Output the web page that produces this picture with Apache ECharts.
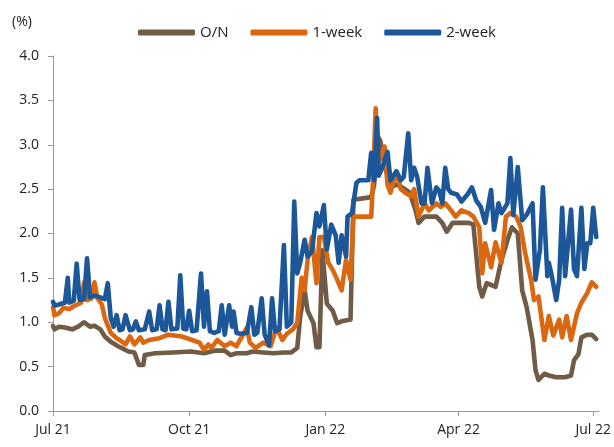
<!DOCTYPE html>
<html>
<head>
<meta charset="utf-8">
<script src="https://cdn.jsdelivr.net/npm/echarts@6/dist/echarts.min.js"></script>
<style>
  html, body { margin: 0; padding: 0; background: #fff; }
  #chart { width: 614px; height: 447px; }
</style>
</head>
<body>
<div id="chart"></div>
<script>
// Overnight, 1-week and 2-week rates (%)
const onDates = [
  "2021-07-01", "2021-07-02", "2021-07-05", "2021-07-09", "2021-07-14", "2021-07-18",
  "2021-07-22", "2021-07-26", "2021-07-29", "2021-08-02", "2021-08-05", "2021-08-09",
  "2021-08-14", "2021-08-21", "2021-08-25", "2021-08-28", "2021-08-31", "2021-09-01",
  "2021-09-08", "2021-09-20", "2021-10-02", "2021-10-11", "2021-10-18", "2021-10-25",
  "2021-10-29", "2021-11-02", "2021-11-09", "2021-11-13", "2021-11-20", "2021-11-27",
  "2021-12-04", "2021-12-09", "2021-12-13", "2021-12-15", "2021-12-18", "2021-12-20",
  "2021-12-24", "2021-12-26", "2021-12-28", "2021-12-30", "2022-01-02", "2022-01-06",
  "2022-01-09", "2022-01-12", "2022-01-18", "2022-01-20", "2022-02-01", "2022-02-03",
  "2022-02-05", "2022-02-07", "2022-02-11", "2022-02-14", "2022-02-18", "2022-02-22",
  "2022-02-27", "2022-03-03", "2022-03-05", "2022-03-09", "2022-03-12", "2022-03-17",
  "2022-03-21", "2022-03-24", "2022-03-28", "2022-04-01", "2022-04-08", "2022-04-11",
  "2022-04-15", "2022-04-17", "2022-04-20", "2022-04-26", "2022-04-30", "2022-05-04",
  "2022-05-07", "2022-05-11", "2022-05-14", "2022-05-17", "2022-05-21", "2022-05-23",
  "2022-05-25", "2022-05-29", "2022-06-01", "2022-06-06", "2022-06-12", "2022-06-16",
  "2022-06-18", "2022-06-21", "2022-06-23", "2022-06-27", "2022-06-30", "2022-07-03"
];
const onValues = [
  0.96, 0.92, 0.95, 0.94, 0.92, 0.95,
  1.00, 0.95, 0.96, 0.92, 0.84, 0.78,
  0.73, 0.67, 0.66, 0.52, 0.52, 0.63,
  0.65, 0.66, 0.67, 0.65, 0.68, 0.68,
  0.63, 0.65, 0.65, 0.67, 0.66, 0.65,
  0.66, 0.66, 0.71, 1.06, 1.36, 1.13,
  0.99, 0.72, 0.72, 1.81, 1.21, 1.13,
  0.99, 1.01, 1.03, 2.38, 2.41, 2.55,
  3.10, 3.05, 2.72, 2.52, 2.55, 2.52,
  2.46, 2.26, 2.12, 2.19, 2.19, 2.19,
  2.12, 2.02, 2.12, 2.12, 2.12, 2.10,
  1.40, 1.29, 1.44, 1.40, 1.70, 1.92,
  2.07, 2.00, 1.36, 1.17, 0.80, 0.46,
  0.35, 0.42, 0.40, 0.38, 0.38, 0.40,
  0.57, 0.64, 0.83, 0.86, 0.86, 0.81
];

const w1Dates = [
  "2021-07-01", "2021-07-02", "2021-07-05", "2021-07-08", "2021-07-12", "2021-07-15",
  "2021-07-20", "2021-07-22", "2021-07-24", "2021-07-27", "2021-07-29", "2021-07-31",
  "2021-08-03", "2021-08-05", "2021-08-09", "2021-08-13", "2021-08-15", "2021-08-19",
  "2021-08-22", "2021-08-25", "2021-08-29", "2021-08-31", "2021-09-04", "2021-09-11",
  "2021-09-17", "2021-09-26", "2021-10-03", "2021-10-08", "2021-10-11", "2021-10-14",
  "2021-10-16", "2021-10-20", "2021-10-25", "2021-10-29", "2021-11-02", "2021-11-09",
  "2021-11-11", "2021-11-15", "2021-11-20", "2021-11-25", "2021-11-29", "2021-12-03",
  "2021-12-06", "2021-12-10", "2021-12-13", "2021-12-16", "2021-12-18", "2021-12-20",
  "2021-12-23", "2021-12-26", "2021-12-28", "2021-12-31", "2022-01-03", "2022-01-06",
  "2022-01-09", "2022-01-12", "2022-01-15", "2022-01-18", "2022-01-20", "2022-02-01",
  "2022-02-02", "2022-02-04", "2022-02-06", "2022-02-10", "2022-02-12", "2022-02-14",
  "2022-02-18", "2022-02-21", "2022-02-24", "2022-02-28", "2022-03-02", "2022-03-05",
  "2022-03-09", "2022-03-12", "2022-03-17", "2022-03-20", "2022-03-23", "2022-03-27",
  "2022-03-30", "2022-04-03", "2022-04-08", "2022-04-11", "2022-04-15", "2022-04-17",
  "2022-04-19", "2022-04-23", "2022-04-26", "2022-04-30", "2022-05-03", "2022-05-06",
  "2022-05-10", "2022-05-13", "2022-05-16", "2022-05-20", "2022-05-22", "2022-05-25",
  "2022-05-29", "2022-06-01", "2022-06-04", "2022-06-08", "2022-06-10", "2022-06-13",
  "2022-06-16", "2022-06-20", "2022-06-23", "2022-06-27", "2022-06-30", "2022-07-03"
];
const w1Values = [
  1.17, 1.08, 1.10, 1.16, 1.15, 1.18,
  1.22, 1.45, 1.25, 1.27, 1.45, 1.27,
  1.20, 1.05, 0.88, 0.82, 0.80, 0.75,
  0.84, 0.75, 0.83, 0.77, 0.80, 0.82,
  0.86, 0.84, 0.80, 0.77, 0.69, 0.75,
  0.71, 0.80, 0.73, 0.77, 0.73, 0.94,
  0.77, 0.71, 0.77, 0.73, 0.94, 0.80,
  0.87, 0.92, 0.99, 1.50, 1.36, 1.70,
  1.96, 1.44, 1.96, 1.96, 1.67, 1.59,
  1.48, 1.36, 1.70, 1.48, 2.19, 2.19,
  2.52, 3.41, 2.80, 2.98, 2.55, 2.46,
  2.70, 2.50, 2.46, 2.42, 2.50, 2.19,
  2.34, 2.26, 2.34, 2.30, 2.34, 2.26,
  2.19, 2.26, 2.23, 2.19, 2.07, 1.55,
  1.89, 1.62, 1.90, 1.67, 2.19, 2.23,
  2.19, 2.07, 1.78, 1.48, 1.25, 1.29,
  0.80, 1.07, 0.85, 1.03, 0.83, 1.07,
  0.80, 1.10, 1.22, 1.33, 1.45, 1.40
];

const w2Dates = [
  "2021-07-01", "2021-07-02", "2021-07-05", "2021-07-09", "2021-07-11", "2021-07-12",
  "2021-07-15", "2021-07-17", "2021-07-19", "2021-07-22", "2021-07-24", "2021-07-26",
  "2021-07-29", "2021-08-02", "2021-08-05", "2021-08-07", "2021-08-09", "2021-08-11",
  "2021-08-13", "2021-08-15", "2021-08-17", "2021-08-19", "2021-08-22", "2021-08-24",
  "2021-08-26", "2021-08-28", "2021-09-01", "2021-09-04", "2021-09-06", "2021-09-09",
  "2021-09-11", "2021-09-13", "2021-09-15", "2021-09-17", "2021-09-19", "2021-09-23",
  "2021-09-25", "2021-09-27", "2021-09-29", "2021-10-01", "2021-10-03", "2021-10-06",
  "2021-10-09", "2021-10-11", "2021-10-13", "2021-10-15", "2021-10-18", "2021-10-21",
  "2021-10-23", "2021-10-25", "2021-10-28", "2021-10-30", "2021-10-31", "2021-11-02",
  "2021-11-05", "2021-11-09", "2021-11-12", "2021-11-14", "2021-11-16", "2021-11-19",
  "2021-11-21", "2021-11-24", "2021-11-26", "2021-11-28", "2021-12-01", "2021-12-04",
  "2021-12-06", "2021-12-09", "2021-12-11", "2021-12-13", "2021-12-15", "2021-12-18",
  "2021-12-20", "2021-12-23", "2021-12-26", "2021-12-28", "2021-12-31", "2022-01-02",
  "2022-01-05", "2022-01-08", "2022-01-10", "2022-01-12", "2022-01-15", "2022-01-16",
  "2022-01-19", "2022-01-22", "2022-01-24", "2022-01-30", "2022-02-01", "2022-02-03",
  "2022-02-05", "2022-02-06", "2022-02-08", "2022-02-12", "2022-02-14", "2022-02-18",
  "2022-02-21", "2022-02-23", "2022-02-26", "2022-02-28", "2022-03-02", "2022-03-04",
  "2022-03-07", "2022-03-09", "2022-03-11", "2022-03-14", "2022-03-17", "2022-03-19",
  "2022-03-21", "2022-03-23", "2022-03-25", "2022-03-27", "2022-03-31", "2022-04-03",
  "2022-04-07", "2022-04-10", "2022-04-13", "2022-04-16", "2022-04-19", "2022-04-23",
  "2022-04-25", "2022-04-28", "2022-04-30", "2022-05-04", "2022-05-06", "2022-05-08",
  "2022-05-11", "2022-05-14", "2022-05-17", "2022-05-21", "2022-05-23", "2022-05-26",
  "2022-05-28", "2022-05-31", "2022-06-01", "2022-06-03", "2022-06-06", "2022-06-08",
  "2022-06-10", "2022-06-12", "2022-06-16", "2022-06-18", "2022-06-20", "2022-06-23",
  "2022-06-25", "2022-06-27", "2022-06-29", "2022-07-01", "2022-07-03"
];
const w2Values = [
  1.23, 1.19, 1.20, 1.22, 1.50, 1.22,
  1.24, 1.66, 1.25, 1.26, 1.72, 1.28,
  1.30, 1.28, 1.26, 1.44, 1.05, 0.95,
  1.08, 0.91, 0.92, 1.08, 0.91, 0.92,
  1.01, 0.91, 0.92, 1.12, 0.91, 0.92,
  1.19, 0.92, 0.91, 1.23, 0.92, 0.93,
  1.53, 0.93, 0.92, 1.13, 0.90, 0.91,
  1.55, 0.95, 1.35, 0.90, 0.88, 0.90,
  1.19, 0.86, 1.19, 0.95, 1.12, 0.88,
  0.87, 0.88, 1.17, 0.86, 0.88, 1.27,
  0.86, 0.74, 1.27, 0.90, 0.92, 1.87,
  0.95, 1.00, 2.36, 1.55, 1.67, 1.93,
  1.74, 1.80, 2.23, 2.08, 2.32, 1.82,
  2.10, 1.98, 1.67, 1.98, 1.74, 2.19,
  2.23, 2.57, 2.60, 2.60, 2.91, 2.60,
  3.30, 2.65, 2.72, 2.92, 2.60, 2.70,
  2.60, 2.64, 3.13, 2.60, 2.74, 2.64,
  2.34, 2.34, 2.74, 2.34, 2.52, 2.48,
  2.34, 2.74, 2.50, 2.46, 2.44, 2.36,
  2.44, 2.52, 2.37, 2.30, 2.12, 2.49,
  2.04, 2.34, 2.23, 2.34, 2.85, 2.21,
  2.75, 2.15, 2.21, 2.34, 1.48, 1.82,
  2.52, 1.52, 1.67, 1.52, 1.25, 1.48,
  2.29, 1.52, 2.27, 1.60, 1.52, 2.29,
  1.60, 1.89, 1.89, 2.29, 1.96
];

const seriesNames = ["O/N", "1-week", "2-week"];
const seriesColors = ["#6f5b46", "#db6810", "#1b5799"];
const monthLabels = ["Jan", "Feb", "Mar", "Apr", "May", "Jun", "Jul", "Aug", "Sep", "Oct", "Nov", "Dec"];

const DAY = 24 * 3600 * 1000;

function zip(dates, values) {
  return dates.map((d, i) => [d, values[i]]);
}

function lineSeries(idx, data) {
  return {
    name: seriesNames[idx],
    type: "line",
    data: data,
    showSymbol: false,
    symbol: "none",
    color: seriesColors[idx],
    lineStyle: { width: 4.6, color: seriesColors[idx], cap: "round", join: "round" },
  };
}

let chart = echarts.init(document.getElementById("chart"));

let option = {
  animation: false,
  backgroundColor: "#fff",
  textStyle: { fontFamily: "Open Sans" },
  title: {
    text: "(%)",
    left: 7,
    top: 10,
    textStyle: { fontFamily: "Open Sans", fontSize: 14, fontWeight: "normal", color: "#222" },
  },
  legend: {
    left: 133,
    top: 20,
    itemWidth: 57,
    itemHeight: 6,
    itemGap: 22,
    icon: "roundRect",
    textStyle: { fontFamily: "Open Sans", fontSize: 15, color: "#222" },
    data: seriesNames,
  },
  grid: { left: 53, right: 14, top: 56, bottom: 36 },
  xAxis: {
    type: "time",
    min: +new Date(2021, 6, 1),
    max: +new Date(2022, 6, 5),
    minInterval: 91 * DAY,
    maxInterval: 92 * DAY,
    splitLine: { show: false },
    axisLine: { show: true, lineStyle: { color: "#9a9a9a", width: 1 } },
    axisTick: { show: true, length: 5, lineStyle: { color: "#9a9a9a" } },
    axisLabel: {
      margin: 12,
      fontFamily: "Open Sans",
      fontSize: 14,
      color: "#222",
      hideOverlap: false,
      formatter: (val) => {
        let d = new Date(val);
        return monthLabels[d.getMonth()] + " " + String(d.getFullYear()).slice(2);
      },
    },
  },
  yAxis: {
    type: "value",
    min: 0,
    max: 4,
    interval: 0.5,
    splitLine: { show: false },
    axisLine: { show: true, lineStyle: { color: "#9a9a9a", width: 1 } },
    axisTick: { show: true, length: 5, lineStyle: { color: "#9a9a9a" } },
    axisLabel: {
      margin: 14,
      fontFamily: "Open Sans",
      fontSize: 14,
      color: "#222",
      formatter: (v) => v.toFixed(1),
    },
  },
  series: [
    lineSeries(0, zip(onDates, onValues)),
    lineSeries(1, zip(w1Dates, w1Values)),
    lineSeries(2, zip(w2Dates, w2Values)),
  ],
};

chart.setOption(option);
</script>
</body>
</html>
